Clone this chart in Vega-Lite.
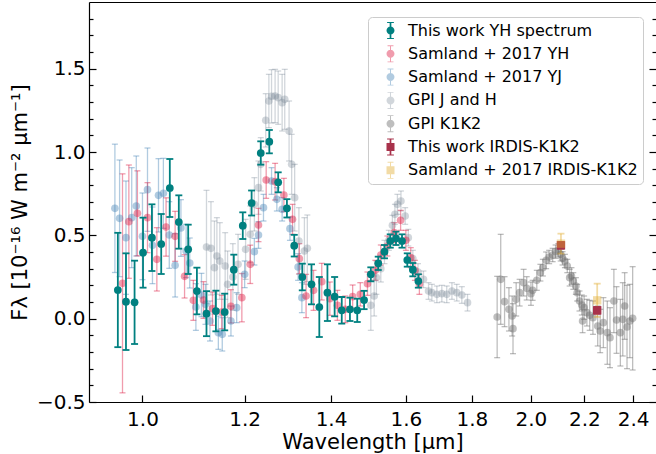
{
"$schema": "https://vega.github.io/schema/vega-lite/v6.json",
"width": 567, "height": 400,
"autosize": {"type": "none"},
"padding": {"left": 89, "top": 2, "right": 0, "bottom": 52},
"config": {
  "font": "DejaVu Sans",
  "view": {"stroke": null},
  "axis": {"domainColor": "black", "tickColor": "black", "labelColor": "black", "titleColor": "black", "labelFontSize": 20, "titleFontSize": 20, "titleFontWeight": "normal", "domainWidth": 1.2, "tickWidth": 1.2, "grid": false, "labelFont": "DejaVu Sans", "titleFont": "DejaVu Sans"}
},
"data": {"values": [
{"s":"GPI K1K2","w":1.883,"f":0.010,"e":0.244},
{"s":"GPI K1K2","w":1.895,"f":0.236,"e":0.27},
{"s":"GPI K1K2","w":1.908,"f":0.102,"e":0.15},
{"s":"GPI K1K2","w":1.923,"f":0.056,"e":0.13},
{"s":"GPI K1K2","w":1.934,"f":0.016,"e":0.12},
{"s":"GPI K1K2","w":1.937,"f":-0.060,"e":0.15},
{"s":"GPI K1K2","w":1.948,"f":0.116,"e":0.1},
{"s":"GPI K1K2","w":1.960,"f":0.156,"e":0.08},
{"s":"GPI K1K2","w":1.974,"f":0.216,"e":0.08},
{"s":"GPI K1K2","w":1.985,"f":0.182,"e":0.07},
{"s":"GPI K1K2","w":2.000,"f":0.150,"e":0.07},
{"s":"GPI K1K2","w":2.006,"f":0.170,"e":0.06},
{"s":"GPI K1K2","w":2.021,"f":0.230,"e":0.06},
{"s":"GPI K1K2","w":2.034,"f":0.276,"e":0.05},
{"s":"GPI K1K2","w":2.043,"f":0.306,"e":0.05},
{"s":"GPI K1K2","w":2.055,"f":0.350,"e":0.05},
{"s":"GPI K1K2","w":2.066,"f":0.370,"e":0.04},
{"s":"GPI K1K2","w":2.079,"f":0.382,"e":0.04},
{"s":"GPI K1K2","w":2.090,"f":0.402,"e":0.04},
{"s":"GPI K1K2","w":2.100,"f":0.410,"e":0.04},
{"s":"GPI K1K2","w":2.109,"f":0.386,"e":0.04},
{"s":"GPI K1K2","w":2.116,"f":0.362,"e":0.04},
{"s":"GPI K1K2","w":2.125,"f":0.346,"e":0.04},
{"s":"GPI K1K2","w":2.134,"f":0.316,"e":0.04},
{"s":"GPI K1K2","w":2.143,"f":0.246,"e":0.05},
{"s":"GPI K1K2","w":2.150,"f":0.256,"e":0.05},
{"s":"GPI K1K2","w":2.157,"f":0.226,"e":0.05},
{"s":"GPI K1K2","w":2.167,"f":0.196,"e":0.05},
{"s":"GPI K1K2","w":2.172,"f":0.156,"e":0.05},
{"s":"GPI K1K2","w":2.181,"f":0.106,"e":0.06},
{"s":"GPI K1K2","w":2.190,"f":0.082,"e":0.06},
{"s":"GPI K1K2","w":2.193,"f":-0.014,"e":0.07},
{"s":"GPI K1K2","w":2.199,"f":0.066,"e":0.07},
{"s":"GPI K1K2","w":2.210,"f":0.036,"e":0.08},
{"s":"GPI K1K2","w":2.221,"f":0.020,"e":0.09},
{"s":"GPI K1K2","w":2.234,"f":0.006,"e":0.1},
{"s":"GPI K1K2","w":2.253,"f":-0.044,"e":0.12},
{"s":"GPI K1K2","w":2.263,"f":-0.074,"e":0.13},
{"s":"GPI K1K2","w":2.276,"f":-0.024,"e":0.15},
{"s":"GPI K1K2","w":2.292,"f":-0.084,"e":0.19},
{"s":"GPI K1K2","w":2.303,"f":-0.114,"e":0.18},
{"s":"GPI K1K2","w":2.319,"f":0.106,"e":0.19},
{"s":"GPI K1K2","w":2.330,"f":-0.008,"e":0.2},
{"s":"GPI K1K2","w":2.346,"f":-0.084,"e":0.2},
{"s":"GPI K1K2","w":2.356,"f":-0.004,"e":0.22},
{"s":"GPI K1K2","w":2.364,"f":0.076,"e":0.2},
{"s":"GPI K1K2","w":2.374,"f":-0.050,"e":0.25},
{"s":"GPI K1K2","w":2.386,"f":-0.014,"e":0.22},
{"s":"GPI K1K2","w":2.398,"f":0.002,"e":0.31},
{"s":"GPI J and H","w":1.121,"f":0.430,"e":0.34},
{"s":"GPI J and H","w":1.130,"f":0.422,"e":0.28},
{"s":"GPI J and H","w":1.137,"f":0.306,"e":0.28},
{"s":"GPI J and H","w":1.142,"f":0.376,"e":0.23},
{"s":"GPI J and H","w":1.148,"f":0.346,"e":0.23},
{"s":"GPI J and H","w":1.159,"f":0.316,"e":0.2},
{"s":"GPI J and H","w":1.164,"f":0.206,"e":0.2},
{"s":"GPI J and H","w":1.175,"f":0.250,"e":0.2},
{"s":"GPI J and H","w":1.186,"f":0.326,"e":0.18},
{"s":"GPI J and H","w":1.202,"f":0.416,"e":0.18},
{"s":"GPI J and H","w":1.212,"f":0.506,"e":0.17},
{"s":"GPI J and H","w":1.221,"f":0.686,"e":0.16},
{"s":"GPI J and H","w":1.230,"f":0.786,"e":0.16},
{"s":"GPI J and H","w":1.235,"f":0.926,"e":0.16},
{"s":"GPI J and H","w":1.246,"f":1.190,"e":0.16},
{"s":"GPI J and H","w":1.253,"f":1.306,"e":0.16},
{"s":"GPI J and H","w":1.259,"f":1.334,"e":0.16},
{"s":"GPI J and H","w":1.267,"f":1.336,"e":0.16},
{"s":"GPI J and H","w":1.274,"f":1.326,"e":0.16},
{"s":"GPI J and H","w":1.283,"f":1.296,"e":0.17},
{"s":"GPI J and H","w":1.289,"f":1.316,"e":0.18},
{"s":"GPI J and H","w":1.299,"f":1.126,"e":0.18},
{"s":"GPI J and H","w":1.305,"f":0.926,"e":0.18},
{"s":"GPI J and H","w":1.312,"f":0.726,"e":0.2},
{"s":"GPI J and H","w":1.322,"f":0.466,"e":0.2},
{"s":"GPI J and H","w":1.335,"f":0.406,"e":0.2},
{"s":"GPI J and H","w":1.342,"f":0.422,"e":0.2},
{"s":"GPI J and H","w":1.503,"f":0.080,"e":0.15},
{"s":"GPI J and H","w":1.512,"f":0.136,"e":0.12},
{"s":"GPI J and H","w":1.518,"f":0.246,"e":0.1},
{"s":"GPI J and H","w":1.530,"f":0.300,"e":0.08},
{"s":"GPI J and H","w":1.540,"f":0.400,"e":0.07},
{"s":"GPI J and H","w":1.552,"f":0.470,"e":0.06},
{"s":"GPI J and H","w":1.562,"f":0.560,"e":0.06},
{"s":"GPI J and H","w":1.569,"f":0.626,"e":0.06},
{"s":"GPI J and H","w":1.576,"f":0.686,"e":0.06},
{"s":"GPI J and H","w":1.586,"f":0.706,"e":0.06},
{"s":"GPI J and H","w":1.598,"f":0.616,"e":0.05},
{"s":"GPI J and H","w":1.607,"f":0.486,"e":0.05},
{"s":"GPI J and H","w":1.620,"f":0.360,"e":0.05},
{"s":"GPI J and H","w":1.635,"f":0.280,"e":0.05},
{"s":"GPI J and H","w":1.651,"f":0.236,"e":0.05},
{"s":"GPI J and H","w":1.666,"f":0.166,"e":0.05},
{"s":"GPI J and H","w":1.676,"f":0.156,"e":0.05},
{"s":"GPI J and H","w":1.691,"f":0.146,"e":0.05},
{"s":"GPI J and H","w":1.706,"f":0.150,"e":0.05},
{"s":"GPI J and H","w":1.721,"f":0.146,"e":0.05},
{"s":"GPI J and H","w":1.737,"f":0.166,"e":0.05},
{"s":"GPI J and H","w":1.752,"f":0.156,"e":0.05},
{"s":"GPI J and H","w":1.768,"f":0.142,"e":0.05},
{"s":"GPI J and H","w":1.786,"f":0.096,"e":0.05},
{"s":"Samland + 2017 YJ","w":0.952,"f":0.662,"e":0.385},
{"s":"Samland + 2017 YJ","w":0.960,"f":0.602,"e":0.35},
{"s":"Samland + 2017 YJ","w":0.971,"f":0.486,"e":0.34},
{"s":"Samland + 2017 YJ","w":0.981,"f":0.606,"e":0.30},
{"s":"Samland + 2017 YJ","w":0.989,"f":0.676,"e":0.30},
{"s":"Samland + 2017 YJ","w":1.000,"f":0.494,"e":0.26},
{"s":"Samland + 2017 YJ","w":1.009,"f":0.774,"e":0.25},
{"s":"Samland + 2017 YJ","w":1.018,"f":0.440,"e":0.23},
{"s":"Samland + 2017 YJ","w":1.029,"f":0.740,"e":0.22},
{"s":"Samland + 2017 YJ","w":1.038,"f":0.752,"e":0.21},
{"s":"Samland + 2017 YJ","w":1.049,"f":0.502,"e":0.20},
{"s":"Samland + 2017 YJ","w":1.060,"f":0.320,"e":0.19},
{"s":"Samland + 2017 YJ","w":1.071,"f":0.544,"e":0.17},
{"s":"Samland + 2017 YJ","w":1.081,"f":0.406,"e":0.16},
{"s":"Samland + 2017 YJ","w":1.088,"f":0.334,"e":0.15},
{"s":"Samland + 2017 YJ","w":1.100,"f":0.070,"e":0.14},
{"s":"Samland + 2017 YJ","w":1.111,"f":0.142,"e":0.13},
{"s":"Samland + 2017 YJ","w":1.119,"f":0.086,"e":0.12},
{"s":"Samland + 2017 YJ","w":1.128,"f":-0.014,"e":0.12},
{"s":"Samland + 2017 YJ","w":1.145,"f":-0.084,"e":0.1},
{"s":"Samland + 2017 YJ","w":1.153,"f":-0.094,"e":0.1},
{"s":"Samland + 2017 YJ","w":1.171,"f":-0.014,"e":0.09},
{"s":"Samland + 2017 YJ","w":1.183,"f":0.066,"e":0.09},
{"s":"Samland + 2017 YJ","w":1.200,"f":0.266,"e":0.08},
{"s":"Samland + 2017 YJ","w":1.221,"f":0.402,"e":0.08},
{"s":"Samland + 2017 YJ","w":1.230,"f":0.502,"e":0.08},
{"s":"Samland + 2017 YJ","w":1.241,"f":0.666,"e":0.08},
{"s":"Samland + 2017 YJ","w":1.259,"f":0.826,"e":0.08},
{"s":"Samland + 2017 YJ","w":1.271,"f":0.716,"e":0.07},
{"s":"Samland + 2017 YJ","w":1.283,"f":0.656,"e":0.07},
{"s":"Samland + 2017 YJ","w":1.301,"f":0.540,"e":0.07},
{"s":"Samland + 2017 YJ","w":1.320,"f":0.310,"e":0.08},
{"s":"Samland + 2017 YJ","w":1.329,"f":0.126,"e":0.09},
{"s":"Samland + 2017 YH","w":0.965,"f":0.212,"e":0.657},
{"s":"Samland + 2017 YH","w":0.976,"f":0.582,"e":0.34},
{"s":"Samland + 2017 YH","w":0.991,"f":0.632,"e":0.255},
{"s":"Samland + 2017 YH","w":1.009,"f":0.606,"e":0.21},
{"s":"Samland + 2017 YH","w":1.026,"f":0.356,"e":0.19},
{"s":"Samland + 2017 YH","w":1.043,"f":0.550,"e":0.175},
{"s":"Samland + 2017 YH","w":1.060,"f":0.494,"e":0.15},
{"s":"Samland + 2017 YH","w":1.078,"f":0.254,"e":0.13},
{"s":"Samland + 2017 YH","w":1.095,"f":0.110,"e":0.12},
{"s":"Samland + 2017 YH","w":1.115,"f":0.112,"e":0.11},
{"s":"Samland + 2017 YH","w":1.133,"f":0.060,"e":0.1},
{"s":"Samland + 2017 YH","w":1.152,"f":0.040,"e":0.1},
{"s":"Samland + 2017 YH","w":1.171,"f":0.074,"e":0.1},
{"s":"Samland + 2017 YH","w":1.194,"f":0.126,"e":0.145},
{"s":"Samland + 2017 YH","w":1.212,"f":0.326,"e":0.115},
{"s":"Samland + 2017 YH","w":1.230,"f":0.562,"e":0.1},
{"s":"Samland + 2017 YH","w":1.247,"f":0.832,"e":0.11},
{"s":"Samland + 2017 YH","w":1.267,"f":0.822,"e":0.11},
{"s":"Samland + 2017 YH","w":1.287,"f":0.742,"e":0.1},
{"s":"Samland + 2017 YH","w":1.307,"f":0.596,"e":0.09},
{"s":"Samland + 2017 YH","w":1.323,"f":0.360,"e":0.09},
{"s":"Samland + 2017 YH","w":1.339,"f":0.136,"e":0.13},
{"s":"Samland + 2017 YH","w":1.357,"f":0.170,"e":0.12},
{"s":"Samland + 2017 YH","w":1.377,"f":0.222,"e":0.11},
{"s":"Samland + 2017 YH","w":1.397,"f":0.120,"e":0.1},
{"s":"Samland + 2017 YH","w":1.416,"f":0.080,"e":0.09},
{"s":"Samland + 2017 YH","w":1.436,"f":0.056,"e":0.08},
{"s":"Samland + 2017 YH","w":1.455,"f":0.132,"e":0.07},
{"s":"Samland + 2017 YH","w":1.475,"f":0.146,"e":0.07},
{"s":"Samland + 2017 YH","w":1.494,"f":0.210,"e":0.07},
{"s":"Samland + 2017 YH","w":1.515,"f":0.290,"e":0.06},
{"s":"Samland + 2017 YH","w":1.530,"f":0.382,"e":0.06},
{"s":"Samland + 2017 YH","w":1.548,"f":0.436,"e":0.06},
{"s":"Samland + 2017 YH","w":1.567,"f":0.516,"e":0.06},
{"s":"Samland + 2017 YH","w":1.585,"f":0.590,"e":0.06},
{"s":"Samland + 2017 YH","w":1.600,"f":0.470,"e":0.06},
{"s":"Samland + 2017 YH","w":1.614,"f":0.366,"e":0.06},
{"s":"Samland + 2017 YH","w":1.626,"f":0.290,"e":0.06},
{"s":"Samland + 2017 YH","w":1.639,"f":0.206,"e":0.06},
{"s":"This work YH spectrum","w":0.957,"f":0.172,"e":0.343},
{"s":"This work YH spectrum","w":0.971,"f":0.102,"e":0.29},
{"s":"This work YH spectrum","w":0.986,"f":0.098,"e":0.25},
{"s":"This work YH spectrum","w":1.001,"f":0.396,"e":0.21},
{"s":"This work YH spectrum","w":1.017,"f":0.486,"e":0.20},
{"s":"This work YH spectrum","w":1.034,"f":0.448,"e":0.18},
{"s":"This work YH spectrum","w":1.050,"f":0.784,"e":0.174},
{"s":"This work YH spectrum","w":1.067,"f":0.580,"e":0.16},
{"s":"This work YH spectrum","w":1.085,"f":0.416,"e":0.148},
{"s":"This work YH spectrum","w":1.102,"f":0.166,"e":0.14},
{"s":"This work YH spectrum","w":1.121,"f":0.030,"e":0.135},
{"s":"This work YH spectrum","w":1.140,"f":0.046,"e":0.122},
{"s":"This work YH spectrum","w":1.158,"f":0.040,"e":0.11},
{"s":"This work YH spectrum","w":1.177,"f":0.294,"e":0.09},
{"s":"This work YH spectrum","w":1.196,"f":0.558,"e":0.08},
{"s":"This work YH spectrum","w":1.215,"f":0.694,"e":0.075},
{"s":"This work YH spectrum","w":1.235,"f":0.994,"e":0.07},
{"s":"This work YH spectrum","w":1.254,"f":1.062,"e":0.07},
{"s":"This work YH spectrum","w":1.274,"f":0.818,"e":0.06},
{"s":"This work YH spectrum","w":1.294,"f":0.662,"e":0.055},
{"s":"This work YH spectrum","w":1.311,"f":0.438,"e":0.065},
{"s":"This work YH spectrum","w":1.330,"f":0.250,"e":0.08},
{"s":"This work YH spectrum","w":1.352,"f":0.206,"e":0.12},
{"s":"This work YH spectrum","w":1.371,"f":0.070,"e":0.18},
{"s":"This work YH spectrum","w":1.391,"f":0.156,"e":0.17},
{"s":"This work YH spectrum","w":1.409,"f":0.132,"e":0.118},
{"s":"This work YH spectrum","w":1.427,"f":0.050,"e":0.08},
{"s":"This work YH spectrum","w":1.448,"f":0.056,"e":0.07},
{"s":"This work YH spectrum","w":1.467,"f":0.050,"e":0.07},
{"s":"This work YH spectrum","w":1.485,"f":0.112,"e":0.055},
{"s":"This work YH spectrum","w":1.503,"f":0.266,"e":0.042},
{"s":"This work YH spectrum","w":1.523,"f":0.332,"e":0.04},
{"s":"This work YH spectrum","w":1.540,"f":0.402,"e":0.04},
{"s":"This work YH spectrum","w":1.556,"f":0.466,"e":0.04},
{"s":"This work YH spectrum","w":1.572,"f":0.482,"e":0.04},
{"s":"This work YH spectrum","w":1.589,"f":0.466,"e":0.04},
{"s":"This work YH spectrum","w":1.604,"f":0.352,"e":0.04},
{"s":"This work YH spectrum","w":1.620,"f":0.294,"e":0.04},
{"s":"This work YH spectrum","w":1.636,"f":0.226,"e":0.04},
{"s":"This work IRDIS-K1K2","w":2.110,"f":0.440,"e":0.02},
{"s":"This work IRDIS-K1K2","w":2.251,"f":0.050,"e":0.02},
{"s":"Samland + 2017 IRDIS-K1K2","w":2.110,"f":0.450,"e":0.06},
{"s":"Samland + 2017 IRDIS-K1K2","w":2.251,"f":0.110,"e":0.10}
]},
"encoding": {
  "x": {"field": "w", "type": "quantitative", "scale": {"type": "log", "domain": [0.909, 2.5], "nice": false}, "axis": null},
  "y": {"field": "f", "type": "quantitative", "scale": {"domain": [-0.5, 1.9], "nice": false, "zero": false}, "axis": null},
  "color": {"field": "s", "type": "nominal",
    "scale": {"domain": ["This work YH spectrum","Samland + 2017 YH","Samland + 2017 YJ","GPI J and H","GPI K1K2","This work IRDIS-K1K2","Samland + 2017 IRDIS-K1K2"],
              "range": ["#008080","rgba(220,20,60,0.42)","rgba(70,130,180,0.42)","rgba(112,128,144,0.32)","rgba(110,110,110,0.45)","#a8324b","rgba(225,170,40,0.42)"]}}
},
"layer": [
  {"transform": [{"filter": {"field": "s", "oneOf": ["GPI K1K2","GPI J and H","Samland + 2017 YJ","Samland + 2017 YH"]}}],
   "mark": {"type": "errorbar", "ticks": {"size": 6, "opacity": 1}, "thickness": 1.3, "opacity": 1},
   "encoding": {
     "x": {"field": "w", "type": "quantitative", "scale": {"type": "log", "domain": [0.909, 2.5], "nice": false},
           "axis": {"orient": "bottom", "values": [1,1.2,1.4,1.6,1.8,2,2.2,2.4], "format": ".1f", "tickSize": -7, "labelPadding": 14, "title": "Wavelength [μm]", "titleFontSize": 21, "titlePadding": 2, "domain": true}},
     "y": {"field": "f", "type": "quantitative", "scale": {"domain": [-0.5, 1.9], "nice": false, "zero": false},
           "axis": {"orient": "left", "values": [-0.5,-0.4,-0.3,-0.2,-0.1,0,0.1,0.2,0.3,0.4,0.5,0.6,0.7,0.8,0.9,1,1.1,1.2,1.3,1.4,1.5,1.6,1.7,1.8],
                    "labelExpr": "abs(datum.value*2 - round(datum.value*2)) < 0.01 ? format(datum.value, '.1f') : ''",
                    "tickSize": {"condition": {"test": "abs(datum.value*2 - round(datum.value*2)) < 0.01", "value": -7}, "value": -4},
                    "labelPadding": 11, "title": "Fλ [10⁻¹⁶ W m⁻² μm⁻¹]", "titleFontSize": 21, "titlePadding": 6, "domain": true}},
     "yError": {"field": "e"}
   }},
  {"transform": [{"filter": {"field": "s", "oneOf": ["GPI K1K2","GPI J and H","Samland + 2017 YJ","Samland + 2017 YH"]}}],
   "mark": {"type": "point", "filled": true, "shape": "circle", "size": 58, "opacity": 1}},
  {"transform": [{"filter": {"field": "s", "equal": "This work YH spectrum"}}],
   "mark": {"type": "errorbar", "ticks": {"size": 7, "opacity": 1}, "thickness": 1.8, "opacity": 1},
   "encoding": {"yError": {"field": "e"}}},
  {"transform": [{"filter": {"field": "s", "equal": "This work YH spectrum"}}],
   "mark": {"type": "point", "filled": true, "shape": "circle", "size": 60, "opacity": 1}},
  {"transform": [{"filter": {"field": "s", "oneOf": ["This work IRDIS-K1K2","Samland + 2017 IRDIS-K1K2"]}}],
   "mark": {"type": "errorbar", "ticks": {"size": 7, "opacity": 1}, "thickness": 1.8, "opacity": 1},
   "encoding": {"yError": {"field": "e"}}},
  {"transform": [{"filter": {"field": "s", "oneOf": ["This work IRDIS-K1K2","Samland + 2017 IRDIS-K1K2"]}}],
   "mark": {"type": "point", "filled": true, "shape": "square", "size": 70, "opacity": 1}},
  {"transform": [{"filter": "datum.w > 100"}],
   "mark": {"type": "point", "filled": true, "opacity": 1},
   "encoding": {
     "x": {"field": "w", "type": "quantitative", "scale": {"type": "log", "domain": [0.909, 2.5], "nice": false},
           "axis": {"orient": "top", "ticks": false, "labels": false, "domain": true, "title": null}},
     "y": {"field": "f", "type": "quantitative", "scale": {"domain": [-0.5, 1.9], "nice": false, "zero": false},
           "axis": {"orient": "right", "values": [-0.5,-0.4,-0.3,-0.2,-0.1,0,0.1,0.2,0.3,0.4,0.5,0.6,0.7,0.8,0.9,1,1.1,1.2,1.3,1.4,1.5,1.6,1.7,1.8],
                    "labels": false, "domain": false, "title": null,
                    "tickSize": {"condition": {"test": "abs(datum.value*2 - round(datum.value*2)) < 0.01", "value": -7}, "value": -4}}},
     "color": {"field": "s", "type": "nominal",
       "scale": {"domain": ["This work YH spectrum","Samland + 2017 YH","Samland + 2017 YJ","GPI J and H","GPI K1K2","This work IRDIS-K1K2","Samland + 2017 IRDIS-K1K2"],
                 "range": ["#008080","rgba(220,20,60,0.42)","rgba(70,130,180,0.42)","rgba(112,128,144,0.32)","rgba(110,110,110,0.45)","#a8324b","rgba(225,170,40,0.42)"]},
       "legend": {"orient": "none", "legendX": 279, "legendY": 15, "title": null, "padding": 5, "symbolOffset": 9, "labelOffset": 9, "rowPadding": 6.3,
                  "labelFontSize": 16, "labelFont": "DejaVu Sans", "labelColor": "black", "labelLimit": 400, "symbolSize": 289, "symbolStrokeWidth": 0, "symbolOpacity": 1,
                  "strokeColor": "#cccccc", "cornerRadius": 4, "fillColor": "rgba(255,255,255,0.8)"}},
     "shape": {"field": "s", "type": "nominal",
       "scale": {"domain": ["This work YH spectrum","Samland + 2017 YH","Samland + 2017 YJ","GPI J and H","GPI K1K2","This work IRDIS-K1K2","Samland + 2017 IRDIS-K1K2"],
                 "range": [
                   "M-0.1,-1H0.1V1H-0.1ZM-0.4,-1H0.4V-0.88H-0.4ZM-0.4,0.88H0.4V1H-0.4ZM0.47,0A0.47,0.47 0 1 1 -0.47,0A0.47,0.47 0 1 1 0.47,0Z",
                   "M-0.06,-1H0.06V1H-0.06ZM-0.35,-1H0.35V-0.9H-0.35ZM-0.35,0.9H0.35V1H-0.35ZM0.47,0A0.47,0.47 0 1 1 -0.47,0A0.47,0.47 0 1 1 0.47,0Z",
                   "M-0.06,-1H0.06V1H-0.06ZM-0.35,-1H0.35V-0.9H-0.35ZM-0.35,0.9H0.35V1H-0.35ZM0.47,0A0.47,0.47 0 1 1 -0.47,0A0.47,0.47 0 1 1 0.47,0Z",
                   "M-0.06,-1H0.06V1H-0.06ZM-0.35,-1H0.35V-0.9H-0.35ZM-0.35,0.9H0.35V1H-0.35ZM0.47,0A0.47,0.47 0 1 1 -0.47,0A0.47,0.47 0 1 1 0.47,0Z",
                   "M-0.06,-1H0.06V1H-0.06ZM-0.35,-1H0.35V-0.9H-0.35ZM-0.35,0.9H0.35V1H-0.35ZM0.47,0A0.47,0.47 0 1 1 -0.47,0A0.47,0.47 0 1 1 0.47,0Z",
                   "M-0.1,-1H0.1V1H-0.1ZM-0.4,-1H0.4V-0.88H-0.4ZM-0.4,0.88H0.4V1H-0.4ZM-0.47,-0.47H0.47V0.47H-0.47Z",
                   "M-0.06,-1H0.06V1H-0.06ZM-0.35,-1H0.35V-0.9H-0.35ZM-0.35,0.9H0.35V1H-0.35ZM-0.47,-0.47H0.47V0.47H-0.47Z"]},
       "legend": {"orient": "none", "legendX": 279, "legendY": 15, "title": null}}
   }}
],
"resolve": {"axis": {"x": "independent", "y": "independent"}}
}
